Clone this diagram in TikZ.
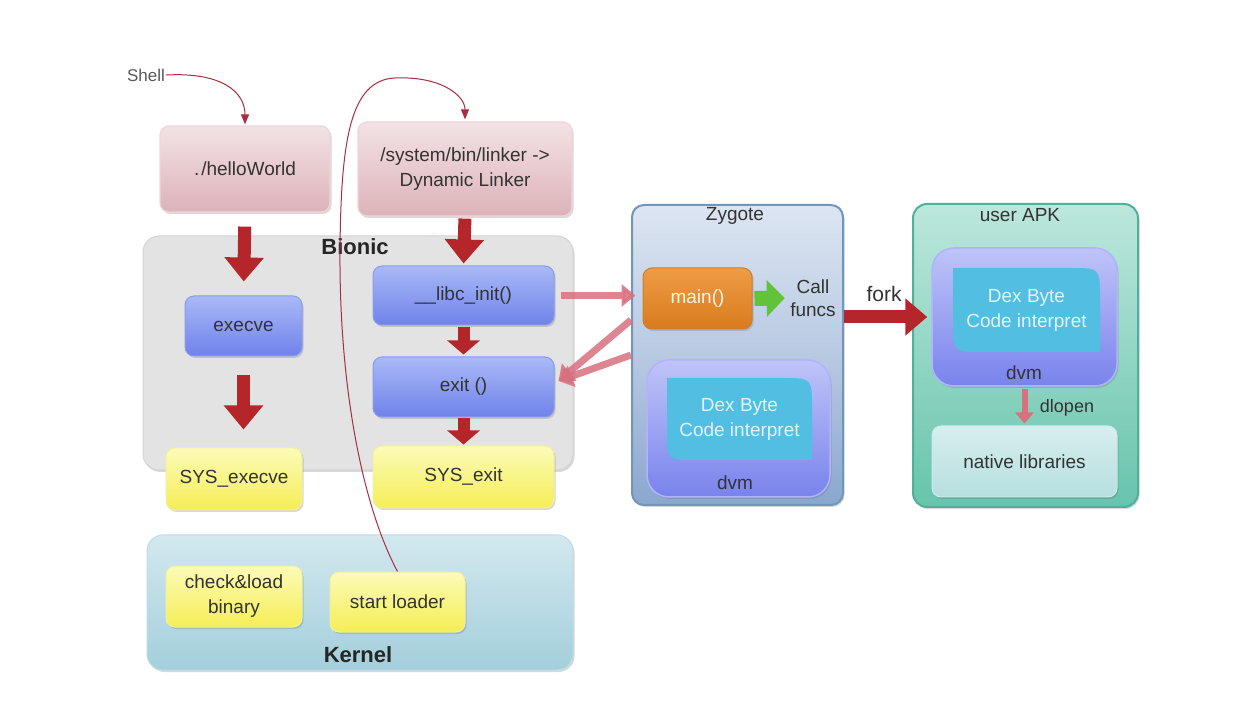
\documentclass[tikz,border=0pt]{standalone}
\usepackage{fontspec}
\setmainfont{Liberation Sans}
\usetikzlibrary{arrows.meta,shadows,calc}
\definecolor{redarr}{HTML}{B5262A}
\definecolor{thinred}{HTML}{A53040}
\definecolor{pinkarr}{HTML}{D8707E}
\definecolor{txt}{HTML}{333333}
\definecolor{pinkT}{HTML}{F3E2E5}
\definecolor{pinkB}{HTML}{DDB2B9}
\definecolor{pinkD}{HTML}{EFD6DA}
\definecolor{blueT}{HTML}{A9B9F7}
\definecolor{blueB}{HTML}{6F82EA}
\definecolor{blueD}{HTML}{8A9BEE}
\definecolor{yelT}{HTML}{FCFBB8}
\definecolor{yelB}{HTML}{F5EE55}
\definecolor{yelD}{HTML}{F3EFA0}
\definecolor{cyanbox}{HTML}{52BFE2}
\definecolor{kerT}{HTML}{D3E8EF}
\definecolor{kerB}{HTML}{A3CFDB}
\definecolor{kerD}{HTML}{BCDDE6}
\definecolor{zygT}{HTML}{DCE5F2}
\definecolor{zygM}{HTML}{B8C9E2}
\definecolor{zygB}{HTML}{8AA7CE}
\definecolor{zygD}{HTML}{7096BC}
\definecolor{orT}{HTML}{EE9C45}
\definecolor{orB}{HTML}{D97B1E}
\definecolor{orD}{HTML}{C9802F}
\definecolor{dvmT}{HTML}{BFC4F8}
\definecolor{dvmB}{HTML}{7983EC}
\definecolor{apkT}{HTML}{BCE7DC}
\definecolor{apkB}{HTML}{67C4AC}
\definecolor{apkD}{HTML}{4FB09C}
\definecolor{natT}{HTML}{D7EEEE}
\definecolor{natB}{HTML}{B6DFDF}
\definecolor{natD}{HTML}{CDEAEA}
\definecolor{grn}{HTML}{62C23A}
\tikzset{
  box/.style={rounded corners=9pt, align=center, text=txt, font=\fontsize{19}{25}\selectfont, inner sep=2pt,
    drop shadow={shadow xshift=1.5pt,shadow yshift=-2pt,opacity=0.25,fill=black!60}},
  pinkbox/.style={box, top color=pinkT, bottom color=pinkB, draw=pinkD, line width=1.2pt},
  bluebox/.style={box, top color=blueT, bottom color=blueB, draw=blueD, line width=1pt},
  yellowbox/.style={box, top color=yelT, bottom color=yelB, draw=yelD, line width=1pt},
  bigred/.style={draw=redarr, line width=13pt, -{Triangle[length=24pt,width=38pt]}},
  thincurve/.style={draw=thinred, line width=1pt, -{Triangle[length=10pt,width=8pt]}},
  pinkblock/.style={draw=pinkarr, opacity=0.85, line width=7pt, -{Triangle[length=14pt,width=22pt]}},
  lbl/.style={text=txt, font=\fontsize{19}{23}\selectfont, align=center},
}
\begin{document}
\begin{tikzpicture}[x=1pt,y=-1pt]
\useasboundingbox[fill=white] (0,0) rectangle (1254,708);

% ---------- containers ----------
\node[box, fill=black!11, draw=black!17, line width=1pt, rounded corners=16pt, minimum width=430pt, minimum height=234pt] (bionic) at (358,353) {};
\node[font=\fontsize{22}{24}\selectfont\bfseries, text=black!85] (bioniclbl) at (355,247) {Bionic};

\node[box, top color=kerT, bottom color=kerB, draw=kerD, line width=1pt, rounded corners=16pt, minimum width=426pt, minimum height=135pt] (kernel) at (360,602.5) {};
\node[font=\fontsize{22}{24}\selectfont\bfseries, text=black!85] (kernellbl) at (358,655) {Kernel};

% ---------- left column ----------
\node[pinkbox, minimum width=170pt, minimum height=86pt] (hello) at (245,169) {.\kern2pt/helloWorld};
\node[pinkbox, minimum width=214pt, minimum height=94pt] (linker) at (465,169) {/system/bin/linker ->\\Dynamic Linker};

\node[bluebox, minimum width=117pt, minimum height=60pt] (execve) at (243.5,326) {execve};
\node[bluebox, minimum width=181pt, minimum height=59pt] (libc) at (463.5,295.5) {\_\_libc\_init()};
\node[bluebox, minimum width=181pt, minimum height=60pt] (exit) at (463.5,387) {exit ()};

\node[yellowbox, minimum width=136pt, minimum height=62pt] (sysexecve) at (234,479) {SYS\_execve};
\node[yellowbox, minimum width=181pt, minimum height=62pt] (sysexit) at (463.5,477) {SYS\_exit};

\node[yellowbox, minimum width=136pt, minimum height=61pt] (check) at (234,596.5) {check\&load\\binary};
\node[yellowbox, minimum width=135pt, minimum height=60pt] (sl) at (397.5,602) {start loader};

\node[text=black!65, font=\fontsize{17}{19}\selectfont, inner sep=1pt] (shell) at (146,75) {Shell};

% ---------- Zygote ----------
\node[box, top color=zygT, bottom color=zygB, middle color=zygM, draw=zygD, line width=2pt, rounded corners=12pt, minimum width=211pt, minimum height=300pt] (zygote) at (737.5,355) {};
\node[lbl] (zyglbl) at (735,216) {Zygote};
\node[box, top color=orT, bottom color=orB, draw=orD, line width=1pt, text=white!92!orange, minimum width=109pt, minimum height=61pt] (main) at (697.5,298.5) {main()};
\node[lbl] (cf) at (813,298) {Call\\funcs};
\node[box, top color=dvmT, bottom color=dvmB, draw=white!70!blue, line width=1.5pt, rounded corners=22pt, minimum width=183pt, minimum height=137pt] (zdvm) at (738.5,428.5) {};
\fill[cyanbox] (667,378) -- (782,378) .. controls (812,378) .. (812,408) -- (812,460) -- (697,460) .. controls (667,460) .. (667,430) -- cycle;
\node[lbl, text=white!88!cyan, font=\fontsize{19}{25}\selectfont] (zdex) at (739.5,419) {Dex Byte\\Code interpret};
\node[lbl] (zdvmlbl) at (735,483) {dvm};

% ---------- user APK ----------
\node[box, top color=apkT, bottom color=apkB, draw=apkD, line width=2pt, rounded corners=14pt, minimum width=225pt, minimum height=303pt] (apk) at (1025.5,355.5) {};
\node[lbl] (apklbl) at (1020,215) {user APK};
\node[box, top color=dvmT, bottom color=dvmB, draw=white!70!blue, line width=1.5pt, rounded corners=22pt, minimum width=185pt, minimum height=138pt] (advm) at (1024.5,317) {};
\fill[cyanbox] (953,268) -- (1070,268) .. controls (1100,268) .. (1100,298) -- (1100,352) -- (983,352) .. controls (953,352) .. (953,322) -- cycle;
\node[lbl, text=white!88!cyan, font=\fontsize{19}{25}\selectfont] (adex) at (1026.5,310) {Dex Byte\\Code interpret};
\node[lbl] (advmlbl) at (1024,373) {dvm};
\node[box, top color=natT, bottom color=natB, draw=natD, line width=1pt, minimum width=185pt, minimum height=71pt] (native) at (1024.5,461.5) {native libraries};

% ---------- thick red arrows ----------
\draw[bigred, shorten <=14pt, shorten >=14pt] (hello.south) -- (execve.north);
\draw[bigred, shorten <=19pt, shorten >=18pt] (execve.south) -- (sysexecve.north -| execve.south);
\draw[bigred, shorten <=2pt, shorten >=2pt] (linker.south) -- (libc.north);
\draw[bigred, line width=12pt, -{Triangle[length=14pt,width=32pt]}, shorten <=2pt, shorten >=2pt] (libc.south) -- (exit.north);
\draw[bigred, line width=12pt, -{Triangle[length=14pt,width=32pt]}, shorten <=1pt, shorten >=1pt] (exit.south) -- (sysexit.north);
\node[lbl, font=\fontsize{21}{23}\selectfont] (forklbl) at (884,294) {fork};
\draw[bigred, -{Triangle[length=22pt,width=36pt]}, shorten >=4pt] (zygote.east |- advm.west) -- (advm.west);

% ---------- pink block arrows ----------
\draw[pinkblock, shorten <=6pt, shorten >=7pt] (libc.east |- libc.east) -- (main.west |- libc.east);
\draw[pinkblock] ($(zygote.west)+(0,-35)$) -- ($(exit.east)+(4,-6)$);
\draw[pinkblock] (zygote.west) -- ($(exit.east)+(4,-6)$);
\draw[draw=pinkarr, line width=6pt, -{Triangle[length=11pt,width=18pt]}, shorten <=2pt, shorten >=2pt] (advm.south) -- (native.north);
\node[lbl, font=\fontsize{18}{20}\selectfont] (dl) at (1067,408) {dlopen};

% ---------- green arrow ----------
\draw[draw=grn, line width=15pt, -{Triangle[length=18pt,width=36pt]}, shorten <=2pt, shorten >=2pt] (main.east) -- (cf.west);

% ---------- thin curves ----------
\draw[thincurve, shorten >=1pt] (shell.east) .. controls (222,72) and (245,92) .. (hello.north);
\draw[thincurve, shorten >=2pt] (sl.north) .. controls (362,505) and (339,385) .. (340,250)
   .. controls (341,140) and (350,80) .. (395,78) .. controls (440,76) and (465,95) .. (linker.north);
\end{tikzpicture}
\end{document}
